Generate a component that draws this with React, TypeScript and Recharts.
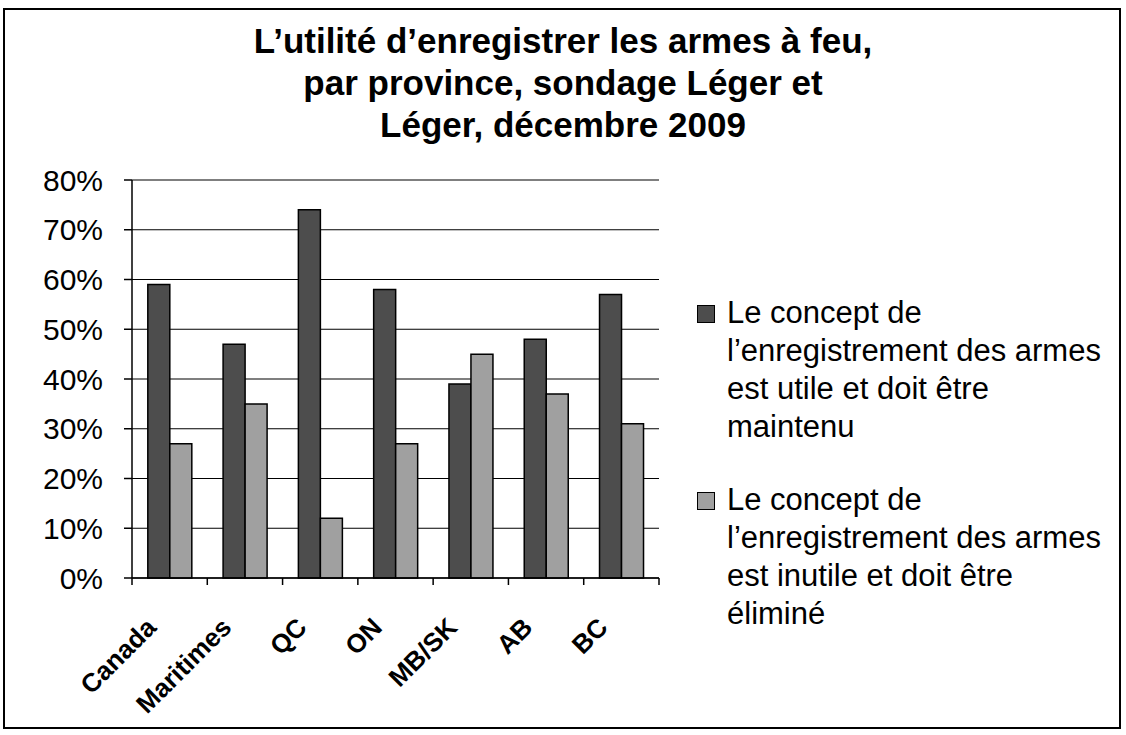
import { BarChart, Bar, XAxis, YAxis, CartesianGrid } from 'recharts';

const categories = ['Canada', 'Maritimes', 'QC', 'ON', 'MB/SK', 'AB', 'BC'];
const utileValues = [59, 47, 74, 58, 39, 48, 57];
const inutileValues = [27, 35, 12, 27, 45, 37, 31];
const yTicks = [0, 10, 20, 30, 40, 50, 60, 70, 80];

const titleLines = [
  'L’utilité d’enregistrer les armes à feu,',
  'par province, sondage Léger et',
  'Léger, décembre 2009',
];

const seriesNames = [
  'Le concept de\nl’enregistrement des armes\nest utile et doit être\nmaintenu',
  'Le concept de\nl’enregistrement des armes\nest inutile et doit être\néliminé',
];
const seriesColors = ['#4d4d4d', '#a0a0a0'];

const data = categories.map((name, i) => ({
  name,
  utile: utileValues[i],
  inutile: inutileValues[i],
}));

const CHART_W = 1126;
const CHART_H = 735;
const PLOT_LEFT = 132;
const PLOT_RIGHT = 659;
const PLOT_W = PLOT_RIGHT - PLOT_LEFT;
const Y_AXIS_W = 100;
const X_AXIS_H = 100;
const FONT = '"Liberation Sans", Arial, sans-serif';

const CategoryTick = (props: any) => {
  const { x, y, payload, index } = props;
  const step = PLOT_W / categories.length;
  const lx = x - 12;
  const ly = y + 51;
  return (
    <g>
      <line x1={x - step / 2} x2={x - step / 2} y1={y} y2={y + 7} stroke="#000" strokeWidth={1.5} />
      {index === categories.length - 1 && (
        <line x1={x + step / 2} x2={x + step / 2} y1={y} y2={y + 7} stroke="#000" strokeWidth={1.5} />
      )}
      <text
        x={lx}
        y={ly}
        transform={`rotate(-45 ${lx} ${ly})`}
        textAnchor="end"
        fontSize={26}
        fontWeight="bold"
        fontFamily={FONT}
        fill="#000"
      >
        {payload.value}
      </text>
    </g>
  );
};

const App = () => {
  return (
    <div
      style={{
        position: 'absolute',
        left: 0,
        top: 0,
        width: CHART_W,
        height: CHART_H,
        background: '#fff',
        fontFamily: FONT,
        color: '#000',
      }}
    >
      <div
        style={{
          position: 'absolute',
          left: 3,
          top: 8,
          width: 1114,
          height: 717,
          border: '2px solid #000',
        }}
      />
      <div
        style={{
          position: 'absolute',
          left: 0,
          top: 20,
          width: CHART_W,
          textAlign: 'center',
          fontWeight: 'bold',
          fontSize: 35,
          lineHeight: '42px',
        }}
      >
        {titleLines.map((line) => (
          <div key={line}>{line}</div>
        ))}
      </div>

      <div style={{ position: 'absolute', left: 0, top: 0 }}>
        <BarChart
          width={CHART_W}
          height={CHART_H}
          data={data}
          margin={{ top: 180, left: PLOT_LEFT - Y_AXIS_W, right: CHART_W - PLOT_RIGHT, bottom: 157 - X_AXIS_H }}
          barCategoryGap="21%"
          barGap={0}
        >
          <CartesianGrid vertical={false} stroke="#000" strokeWidth={1.2} />
          <XAxis
            dataKey="name"
            interval={0}
            height={X_AXIS_H}
            tickLine={false}
            tickSize={0}
            tickMargin={0}
            axisLine={{ stroke: '#000', strokeWidth: 1.5 }}
            tick={<CategoryTick />}
          />
          <YAxis
            width={Y_AXIS_W}
            domain={[0, 80]}
            ticks={yTicks}
            interval={0}
            tickFormatter={(v: number) => `${v}%`}
            tickSize={8}
            tickMargin={21}
            tickLine={{ stroke: '#000', strokeWidth: 1.5 }}
            axisLine={{ stroke: '#000', strokeWidth: 1.5 }}
            tick={{ fill: '#000', fontSize: 30, fontFamily: FONT }}
          />
          <YAxis
            yAxisId="r"
            orientation="right"
            width={0}
            domain={[0, 80]}
            tick={false}
            tickLine={false}
            axisLine={{ stroke: '#000', strokeWidth: 1.5 }}
          />
          <Bar dataKey="utile" fill={seriesColors[0]} stroke="#000" strokeWidth={1.5} isAnimationActive={false} />
          <Bar dataKey="inutile" fill={seriesColors[1]} stroke="#000" strokeWidth={1.5} isAnimationActive={false} />
        </BarChart>
      </div>

      <div style={{ position: 'absolute', left: 697, top: 294 }}>
        {seriesNames.map((name, i) => (
          <div key={i} style={{ position: 'relative', marginBottom: 35, height: 152, width: 415 }}>
            <div
              style={{
                position: 'absolute',
                left: 0,
                top: 11,
                width: 16,
                height: 16,
                background: seriesColors[i],
                border: '1px solid #000',
              }}
            />
            <div
              style={{
                position: 'absolute',
                left: 30,
                top: 0,
                whiteSpace: 'pre',
                fontSize: 31,
                lineHeight: '38px',
              }}
            >
              {name}
            </div>
          </div>
        ))}
      </div>
    </div>
  );
};

export default App;
